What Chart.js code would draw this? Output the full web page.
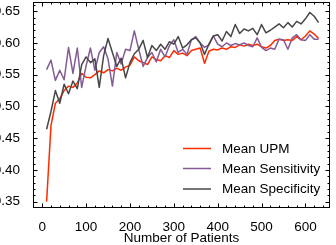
<!DOCTYPE html>
<html>
<head>
<meta charset="utf-8">
<script src="https://cdn.jsdelivr.net/npm/chart.js@4.4.0/dist/chart.umd.min.js"></script>
<style>
  html, body { margin: 0; padding: 0; background: #fff; }
  canvas { display: block; }
</style>
</head>
<body>
<canvas id="patientsChart" width="336" height="245"></canvas>
<script>
// Number of patients (x)
const patients = [10, 20, 30, 40, 50, 60, 70, 80, 90, 100,
  110, 120, 130, 140, 150, 160, 170, 180, 190, 200,
  210, 220, 230, 240, 250, 260, 270, 280, 290, 300,
  310, 320, 330, 340, 350, 360, 370, 380, 390, 400,
  410, 420, 430, 440, 450, 460, 470, 480, 490, 500,
  510, 520, 530, 540, 550, 560, 570, 580, 590, 600,
  610, 620, 630];

const meanUPM = [0.350, 0.470, 0.505, 0.512, 0.525, 0.532, 0.530, 0.537, 0.552, 0.546,
  0.545, 0.550, 0.556, 0.553, 0.558, 0.556, 0.560, 0.557, 0.562, 0.565,
  0.578, 0.572, 0.569, 0.566, 0.578, 0.574, 0.572, 0.580, 0.577, 0.588,
  0.582, 0.584, 0.580, 0.588, 0.590, 0.592, 0.568, 0.587, 0.590, 0.589,
  0.592, 0.590, 0.594, 0.593, 0.597, 0.595, 0.598, 0.596, 0.598, 0.594,
  0.592, 0.596, 0.604, 0.606, 0.604, 0.605, 0.604, 0.610, 0.605, 0.611,
  0.619, 0.614, 0.607];

const meanSensitivity = [0.558, 0.573, 0.541, 0.557, 0.542, 0.593, 0.552, 0.592, 0.530, 0.564,
  0.592, 0.557, 0.585, 0.594, 0.575, 0.532, 0.585, 0.567, 0.590, 0.588,
  0.619, 0.590, 0.563, 0.577, 0.585, 0.570, 0.590, 0.578, 0.596, 0.605,
  0.585, 0.590, 0.582, 0.605, 0.610, 0.600, 0.593, 0.597, 0.611, 0.598,
  0.594, 0.600, 0.596, 0.599, 0.597, 0.600, 0.596, 0.594, 0.608, 0.593,
  0.588, 0.592, 0.590, 0.606, 0.605, 0.590, 0.608, 0.613, 0.605, 0.604,
  0.613, 0.606, 0.606];

const meanSpecificity = [0.464, 0.492, 0.525, 0.505, 0.535, 0.520, 0.540, 0.528, 0.566, 0.578,
  0.569, 0.575, 0.530, 0.580, 0.607, 0.585, 0.563, 0.576, 0.545, 0.569,
  0.583, 0.590, 0.604, 0.577, 0.596, 0.588, 0.598, 0.590, 0.602, 0.598,
  0.610, 0.592, 0.597, 0.605, 0.608, 0.600, 0.582, 0.598, 0.611, 0.613,
  0.603, 0.618, 0.610, 0.629, 0.615, 0.622, 0.619, 0.623, 0.613, 0.629,
  0.616, 0.620, 0.625, 0.630, 0.624, 0.632, 0.625, 0.634, 0.630, 0.638,
  0.648, 0.642, 0.632];

// Axis ticks
const xTickValues = [0, 100, 200, 300, 400, 500, 600];
const yTickValues = [0.35, 0.40, 0.45, 0.50, 0.55, 0.60, 0.65];

const FONT = '"Liberation Sans", Arial, Helvetica, sans-serif';

function toPoints(values) {
    return values.map((v, i) => ({ x: patients[i], y: v }));
}

// Frame, inward ticks (all four sides) and legend inside the plot
const frameAndLegend = {
    id: 'frameAndLegend',
    afterDatasetsDraw(chart) {
        const { ctx, chartArea: a, scales } = chart;
        const x = scales.x, y = scales.y;
        ctx.save();
        ctx.strokeStyle = '#000';
        ctx.lineWidth = 1;
        ctx.strokeRect(a.left + 0.5, a.top + 0.5, a.right - a.left - 1, a.bottom - a.top - 1);

        ctx.beginPath();
        // x ticks, minor every 20
        for (let v = -20; v <= 640; v += 20) {
            const px = Math.round(x.getPixelForValue(v)) + 0.5;
            if (px <= a.left + 1 || px >= a.right - 1) continue;
            const len = xTickValues.includes(v) ? 4.5 : 2.5;
            ctx.moveTo(px, a.bottom); ctx.lineTo(px, a.bottom - len);
            ctx.moveTo(px, a.top); ctx.lineTo(px, a.top + len);
        }
        // y ticks, minor every 0.01
        for (let k = 34; k <= 66; k++) {
            const v = k / 100;
            const py = Math.round(y.getPixelForValue(v)) + 0.5;
            if (py <= a.top + 1 || py >= a.bottom - 1) continue;
            const len = (k % 5 === 0) ? 4.5 : 2.5;
            ctx.moveTo(a.left, py); ctx.lineTo(a.left + len, py);
            ctx.moveTo(a.right, py); ctx.lineTo(a.right - len, py);
        }
        ctx.stroke();
        ctx.restore();
    },
    afterDraw(chart) {
        const { ctx } = chart;
        const rowY = [148.5, 168.5, 189];
        ctx.save();
        ctx.font = '13.5px ' + FONT;
        ctx.textBaseline = 'middle';
        ctx.textAlign = 'left';
        chart.data.datasets.forEach((ds, row) => {
            ctx.strokeStyle = ds.borderColor;
            ctx.lineWidth = 1.5;
            ctx.beginPath();
            ctx.moveTo(183, rowY[row]);
            ctx.lineTo(211, rowY[row]);
            ctx.stroke();
            ctx.fillStyle = '#000';
            ctx.fillText(ds.label, 222, rowY[row] + 0.5);
        });
        ctx.restore();
    }
};

const ctx = document.getElementById('patientsChart');
const patientsChart = new Chart(ctx, {
    type: 'line',
    data: {
        datasets: [{
            label: 'Mean UPM',
            data: toPoints(meanUPM),
            borderColor: '#FF2C00',
            borderWidth: 1.5,
            order: 2
        }, {
            label: 'Mean Sensitivity',
            data: toPoints(meanSensitivity),
            borderColor: '#845B97',
            borderWidth: 1.5,
            order: 1
        }, {
            label: 'Mean Specificity',
            data: toPoints(meanSpecificity),
            borderColor: '#474747',
            borderWidth: 1.5,
            order: 0
        }]
    },
    options: {
        responsive: false,
        animation: false,
        devicePixelRatio: 1,
        layout: { padding: { top: 2, right: 6, bottom: 0, left: 0 } },
        elements: {
            point: { radius: 0, hoverRadius: 0 },
            line: { tension: 0, borderJoinStyle: 'round' }
        },
        plugins: {
            legend: { display: false },
            tooltip: { enabled: false }
        },
        scales: {
            x: {
                type: 'linear',
                min: -21,
                max: 656,
                grid: { display: false },
                border: { display: false },
                ticks: {
                    includeBounds: false,
                    padding: 3,
                    color: '#000',
                    font: { family: FONT, size: 13.5 },
                    maxRotation: 0
                },
                afterBuildTicks(scale) {
                    scale.ticks = xTickValues.map(v => ({ value: v }));
                },
                afterFit(scale) {
                    scale.height = 37;
                    scale.paddingLeft = 0;
                    scale.paddingRight = 0;
                },
                title: {
                    display: true,
                    text: 'Number of Patients',
                    color: '#000',
                    font: { family: FONT, size: 13.5, lineHeight: 1 },
                    padding: { top: 0, bottom: 0 }
                }
            },
            y: {
                type: 'linear',
                min: 0.34,
                max: 0.6645,
                grid: { display: false },
                border: { display: false },
                ticks: {
                    includeBounds: false,
                    padding: 5,
                    color: '#000',
                    font: { family: FONT, size: 13.5 },
                    callback: v => v.toFixed(2)
                },
                afterBuildTicks(scale) {
                    scale.ticks = yTickValues.map(v => ({ value: v }));
                },
                afterFit(scale) {
                    scale.width = 33;
                    scale.paddingTop = 0;
                    scale.paddingBottom = 0;
                }
            }
        }
    },
    plugins: [frameAndLegend]
});
</script>
</body>
</html>
